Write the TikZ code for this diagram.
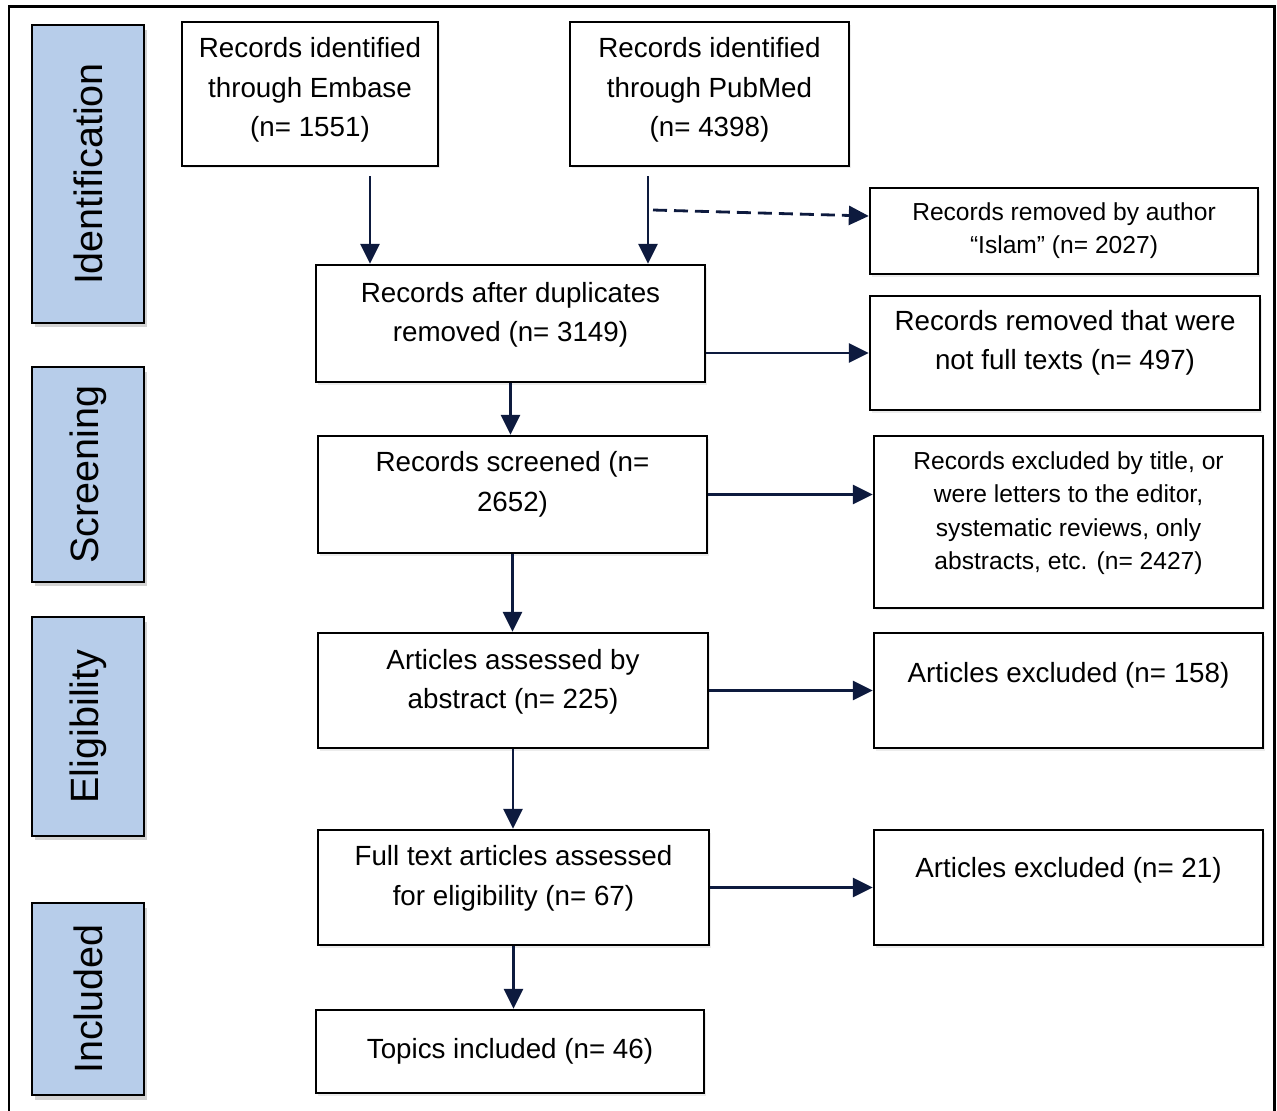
\documentclass[tikz,border=0pt]{standalone}
\usepackage{fontspec}
\setmainfont{Liberation Sans}
\usepackage{tikz}
\usetikzlibrary{arrows.meta,shadows}

\definecolor{stagefill}{HTML}{B7CDEA}
\definecolor{arrowblue}{HTML}{0D1A3E}
\newcommand{\lift}[1]{\rule[-#1]{0pt}{0pt}}

\begin{document}
\begin{tikzpicture}[%
        x=0.02cm, y=-0.02cm,
        box/.style={rectangle, draw=black, line width=1.4pt, fill=white, align=center, inner sep=2pt, font=\fontsize{15.8}{22.5}\selectfont, drop shadow={shadow xshift=0.04cm, shadow yshift=-0.05cm, opacity=0.15}},
        smallbox/.style={box, font=\fontsize{14}{18.8}\selectfont},
        stage/.style={rectangle, draw=black, line width=1.4pt, fill=stagefill, rotate=90, minimum height=2.24cm, font=\fontsize{22.5}{26}\selectfont, drop shadow={shadow xshift=0.06cm, shadow yshift=-0.09cm, opacity=0.35}},
        arr/.style={-{Triangle[length=0.4cm, width=0.38cm]}, draw=arrowblue, line width=1.6pt},
        dasharr/.style={arr, dash pattern=on 0.28cm off 0.14cm}]
        \useasboundingbox (0,0) rectangle (1277,1110);
        % Frame
        \draw[line width=1.7pt] (9,1120) -- (9,6) -- (1274,6) -- (1274,1120);

        % Stages
        \node [stage, minimum width=5.96cm] (ident) at (88,174) {Identification};
        \node [stage, minimum width=4.3cm] (screen) at (88,474.5) {Screening};
        \node [stage, minimum width=4.38cm] (elig) at (88,726.5) {Eligibility};
        \node [stage, minimum width=3.84cm] (incl) at (88,999) {Included};

        % Nodes
        \node [box, minimum width=5.12cm, minimum height=2.88cm] (embase) at (310,94) {Records identified\\through Embase\\(n= 1551)\lift{8pt}};
        \node [box, minimum width=5.58cm, minimum height=2.88cm] (pubmed) at (709.5,94) {Records identified\\through PubMed\\(n= 4398)\lift{8pt}};
        \node [smallbox, minimum width=7.76cm, minimum height=1.72cm] (author) at (1064,231) {Records removed by author\\``Islam'' (n= 2027)};
        \node [box, minimum width=7.78cm, minimum height=2.34cm] (dup) at (510.5,323.5) {Records after duplicates\\removed (n= 3149)\lift{13pt}};
        \node [box, minimum width=7.8cm, minimum height=2.28cm] (notfull) at (1065,353) {Records removed that were\\not full texts (n= 497)\lift{15pt}};
        \node [box, minimum width=7.78cm, minimum height=2.34cm] (screened) at (512.5,494.5) {Records screened (n=\\2652)\lift{15pt}};
        \node [smallbox, minimum width=7.78cm, minimum height=3.44cm] (title) at (1068.5,522) {Records excluded by title, or\\were letters to the editor,\\systematic reviews, only\\abstracts, etc. (n= 2427)\lift{13pt}};
        \node [box, minimum width=7.8cm, minimum height=2.3cm] (assessed) at (513,690.5) {Articles assessed by\\abstract (n= 225)\lift{13pt}};
        \node [box, minimum width=7.78cm, minimum height=2.3cm] (excl158) at (1068.5,690.5) {Articles excluded (n= 158)\lift{21pt}};
        \node [box, minimum width=7.82cm, minimum height=2.3cm] (full) at (513.5,887.5) {Full text articles assessed\\for eligibility (n= 67)\lift{14pt}};
        \node [box, minimum width=7.78cm, minimum height=2.3cm] (excl21) at (1068.5,887.5) {Articles excluded (n= 21)\lift{23pt}};
        \node [box, minimum width=7.76cm, minimum height=1.66cm] (topics) at (510,1051.5) {Topics included (n= 46)};
        \coordinate (dashstart) at (653,210);

        % Edges
        \draw[arr] ([xshift=1.2cm, yshift=-0.18cm]embase.south) -- ([xshift=1.2cm]embase.south |- dup.north);
        \draw[arr] ([xshift=-1.23cm, yshift=-0.18cm]pubmed.south) -- ([xshift=-1.23cm]pubmed.south |- dup.north);
        \draw[dasharr] (dashstart) -- ([yshift=0.3cm]author.west);
        \draw[arr] (dup.east |- notfull.west) -- (notfull.west);
        \draw[arr] (dup.south) -- (dup.south |- screened.north);
        \draw[arr] (screened.east) -- (screened.east -| title.west);
        \draw[arr] (screened.south) -- (screened.south |- assessed.north);
        \draw[arr] (assessed.east) -- (assessed.east -| excl158.west);
        \draw[arr] (assessed.south) -- (assessed.south |- full.north);
        \draw[arr] (full.east) -- (full.east -| excl21.west);
        \draw[arr] (full.south) -- (full.south |- topics.north);
    \end{tikzpicture}
\end{document}
